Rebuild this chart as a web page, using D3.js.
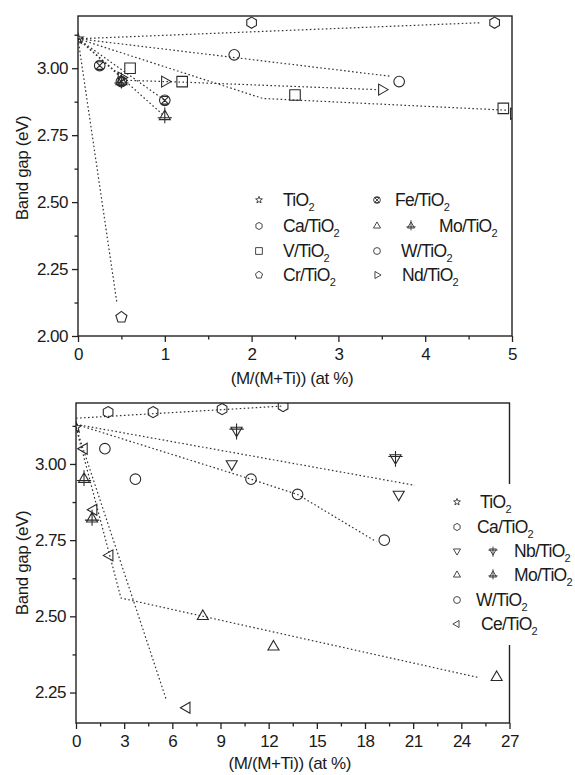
<!DOCTYPE html>
<html>
<head>
<meta charset="utf-8">
<script src="https://cdn.jsdelivr.net/npm/d3@7"></script>
<style>
body { margin: 0; background: #fff; }
svg text { font-family: "Liberation Sans", Arial, sans-serif; fill: #1a1a1a; }
</style>
</head>
<body>
<script>
"use strict";

// ---- top panel data, [at %, band gap eV]
var topTiO2 = [[0, 3.11]];
var topCa = [[2.0, 3.17], [4.8, 3.17]];
var topV = [[0.6, 3.00], [1.2, 2.95], [2.5, 2.90], [4.9, 2.85]];
var topCr = [[0.5, 2.07]];
var topFe = [[0.25, 3.01], [0.5, 2.95], [1.0, 2.88]];
var topMoX = [[0.5, 2.95], [1.0, 2.82]];
var topW = [[1.8, 3.05], [3.7, 2.95]];
var topNd = [[0.5, 2.965], [1.0, 2.95], [3.5, 2.92], [5.02, 2.83]];

// dotted guide lines of the top panel
var topCaFit = [[0, 3.11], [4.65, 3.17]];
var topWFit = [[0, 3.11], [3.6, 2.97]];
var topVFit = [[0, 3.11], [2.13, 2.887], [4.95, 2.843]];
var topNdFit = [[0, 3.11], [0.55, 2.955], [1.2, 2.948], [3.45, 2.92]];
var topFeFit = [[0, 3.11], [1.0, 2.88]];
var topMoFit = [[0, 3.11], [1.0, 2.82]];
var topCrFit = [[0, 3.11], [0.45, 2.12]];

var topXTicks = [0, 1, 2, 3, 4, 5];
var topYTicks = [2.00, 2.25, 2.50, 2.75, 3.00];

// ---- bottom panel data
var botTiO2 = [[0, 3.12]];
var botCa = [[2.0, 3.17], [4.8, 3.17], [9.1, 3.18], [12.9, 3.19]];
var botNb = [[9.7, 3.00], [20.1, 2.90]];
var botNbX = [[10.0, 3.11], [19.9, 3.02]];
var botMo = [[7.9, 2.50], [12.3, 2.40], [26.2, 2.30]];
var botMoX = [[0.5, 2.95], [1.0, 2.82]];
var botW = [[1.8, 3.05], [3.7, 2.95], [10.9, 2.95], [13.8, 2.90], [19.2, 2.75]];
var botCe = [[0.5, 3.05], [1.1, 2.85], [2.1, 2.70], [6.9, 2.20]];

var botCaFit = [[0, 3.15], [12.9, 3.19]];
var botNbFit = [[0, 3.13], [21.1, 2.93]];
var botWFit = [[0, 3.13], [10.9, 2.95], [13.8, 2.90], [18.7, 2.745]];
var botMoFit = [[0, 3.12], [2.8, 2.56], [25.0, 2.30]];
var botCeFit = [[0, 3.12], [5.6, 2.23]];

var botXTicks = [0, 3, 6, 9, 12, 15, 18, 21, 24, 27];
var botYTicks = [2.25, 2.50, 2.75, 3.00];

var ink = "#222";

var svg = d3.select("body").append("svg")
    .attr("width", 575)
    .attr("height", 775);

// marker shapes
function poly(n, r, rot) {
    var pts = d3.range(n).map(function (i) {
        var a = rot + i * 2 * Math.PI / n;
        return [r * Math.cos(a), r * Math.sin(a)];
    });
    return "M" + pts.map(p => p[0].toFixed(2) + "," + p[1].toFixed(2)).join("L") + "Z";
}

function starPath(r) {
    var pts = d3.range(10).map(function (i) {
        var a = -Math.PI / 2 + i * Math.PI / 5;
        var rr = i % 2 ? r * 0.42 : r;
        return [rr * Math.cos(a), rr * Math.sin(a)];
    });
    return "M" + pts.map(p => p[0].toFixed(2) + "," + p[1].toFixed(2)).join("L") + "Z";
}

function circlePath(r) {
    return "M" + r + ",0A" + r + "," + r + " 0 1 1 " + (-r) + ",0A" + r + "," + r + " 0 1 1 " + r + ",0Z";
}

function markerPath(type, r) {
    var t = r * 1.2;
    if (type == "star") return starPath(r * 1.05);
    if (type == "hex") return poly(6, r * 1.05, -Math.PI / 2);
    if (type == "pent") return poly(5, r * 1.1, -Math.PI / 2);
    if (type == "square") return poly(4, r * 1.41, Math.PI / 4);
    if (type == "circle") return circlePath(r);
    if (type == "up") return poly(3, t, -Math.PI / 2);
    if (type == "down") return poly(3, t, Math.PI / 2);
    if (type == "right") return poly(3, t, 0);
    if (type == "left") return poly(3, t, Math.PI);
    if (type == "fe") {
        var a = r * 0.72;
        return circlePath(r) + "M" + (-a) + "," + (-a) + "L" + a + "," + a +
            "M" + (-a) + "," + a + "L" + a + "," + (-a) +
            "M" + (-a) + "," + (-a) + "L" + a + "," + (-a) +
            "M" + (-a) + "," + a + "L" + a + "," + a;
    }
    if (type == "moX") {
        return poly(3, t, -Math.PI / 2) + "M0," + (-r * 1.7) + "V" + (r * 1.3) +
            "M" + (-r * 1.35) + "," + (r * 0.25) + "H" + (r * 1.35);
    }
    if (type == "nbX") {
        return poly(3, t, Math.PI / 2) + "M0," + (-r * 1.3) + "V" + (r * 1.7) +
            "M" + (-r * 1.35) + "," + (-r * 0.25) + "H" + (r * 1.35);
    }
    return circlePath(r);
}

function drawLegendRow(g, row) {
    g.append("path")
        .attr("transform", "translate(" + row.sx + "," + row.y + ")")
        .attr("d", markerPath(row.type, 3.4))
        .attr("fill", "none").attr("stroke", "#333").attr("stroke-width", 0.9);
    if (row.type2) {
        g.append("path")
            .attr("transform", "translate(" + row.sx2 + "," + row.y + ")")
            .attr("d", markerPath(row.type2, 3.4))
            .attr("fill", "none").attr("stroke", "#333").attr("stroke-width", 0.9);
    }
    var t = g.append("text")
        .attr("x", row.tx)
        .attr("y", row.y + 6)
        .style("font-size", "17.5px");
    t.append("tspan").style("letter-spacing", "-0.7px").text(row.label);
    t.append("tspan").attr("dy", 5).style("font-size", "11px").text("2");
}

function drawPanel(cfg) {
    var x = d3.scaleLinear().domain(cfg.xDomain).range([cfg.left, cfg.right]);
    var y = d3.scaleLinear().domain(cfg.yDomain).range([cfg.bottom, cfg.top]);
    var g = svg.append("g");

    g.append("clipPath").attr("id", cfg.id + "clip")
        .append("rect")
        .attr("x", cfg.left).attr("y", cfg.top)
        .attr("width", cfg.right - cfg.left).attr("height", cfg.bottom - cfg.top);

    var plot = g.append("g").attr("clip-path", "url(#" + cfg.id + "clip)");

    var line = d3.line().x(d => x(d[0])).y(d => y(d[1]));
    cfg.fits.forEach(function (f) {
        plot.append("path")
            .attr("d", line(f))
            .attr("fill", "none")
            .attr("stroke", "#333")
            .attr("stroke-width", 1.2)
            .attr("stroke-dasharray", "1.6,2.4");
    });

    cfg.series.forEach(function (s) {
        plot.selectAll(null)
            .data(s.data)
            .enter().append("path")
            .attr("transform", d => "translate(" + x(d[0]) + "," + y(d[1]) + ")")
            .attr("d", markerPath(s.type, 5.3))
            .attr("fill", "none")
            .attr("stroke", "#2a2a2a")
            .attr("stroke-width", 1.1);
    });

    // frame
    g.append("rect")
        .attr("x", cfg.left).attr("y", cfg.top)
        .attr("width", cfg.right - cfg.left).attr("height", cfg.bottom - cfg.top)
        .attr("fill", "none").attr("stroke", ink).attr("stroke-width", 1.4);

    // axes
    var xa = g.append("g").attr("transform", "translate(0," + cfg.bottom + ")")
        .call(d3.axisBottom(x).tickValues(cfg.xTicks).tickSize(6).tickSizeOuter(0)
            .tickPadding(6).tickFormat(d3.format("d")));
    var xm = g.append("g").attr("transform", "translate(0," + cfg.bottom + ")")
        .call(d3.axisBottom(x).tickValues(cfg.xMinor).tickSize(3.5).tickSizeOuter(0).tickFormat(""));
    var ya = g.append("g").attr("transform", "translate(" + cfg.left + ",0)")
        .call(d3.axisLeft(y).tickValues(cfg.yTicks).tickSize(6).tickSizeOuter(0)
            .tickPadding(4).tickFormat(d3.format(".2f")));
    var ym = g.append("g").attr("transform", "translate(" + cfg.left + ",0)")
        .call(d3.axisLeft(y).tickValues(cfg.yMinor).tickSize(3.5).tickSizeOuter(0).tickFormat(""));

    [xa, xm, ya, ym].forEach(function (a) {
        a.select(".domain").remove();
        a.attr("font-family", null).attr("font-size", null);
        a.selectAll("line").attr("stroke", ink).attr("stroke-width", 1.3);
        a.selectAll("text").style("font-size", "17px").style("letter-spacing", "-0.5px").attr("fill", "#1a1a1a");
    });

    g.append("text")
        .attr("x", (cfg.left + cfg.right) / 2 - 3)
        .attr("y", cfg.bottom + cfg.xTitleGap)
        .attr("text-anchor", "middle")
        .style("font-size", "17px")
        .style("letter-spacing", "-0.4px")
        .text("(M/(M+Ti)) (at %)");

    g.append("text")
        .attr("transform", "translate(" + 28 + "," + cfg.yTitleMid + ") rotate(-90)")
        .attr("text-anchor", "middle")
        .style("font-size", "17px")
        .style("letter-spacing", "-0.4px")
        .text("Band gap (eV)");

    if (cfg.legendBox) {
        g.append("rect")
            .attr("x", cfg.legendBox[0]).attr("y", cfg.legendBox[1])
            .attr("width", cfg.legendBox[2]).attr("height", cfg.legendBox[3])
            .attr("fill", "#fff");
    }
    var lg = g.append("g");
    cfg.legend.forEach(r => drawLegendRow(lg, r));
}

function minorTicks(ticks) {
    var out = [];
    for (var i = 0; i < ticks.length - 1; i++) out.push((ticks[i] + ticks[i + 1]) / 2);
    return out;
}

drawPanel({
    id: "top",
    left: 78, right: 512, top: 16, bottom: 336,
    xDomain: [0, 5], yDomain: [2.0, 3.195],
    xTicks: topXTicks, xMinor: minorTicks(topXTicks),
    yTicks: topYTicks, yMinor: minorTicks(topYTicks).concat([3.125]),
    xTitleGap: 48, yTitleMid: 168,
    fits: [topCaFit, topWFit, topVFit, topNdFit, topFeFit, topMoFit, topCrFit],
    series: [
        {type: "star", data: topTiO2},
        {type: "hex", data: topCa},
        {type: "square", data: topV},
        {type: "pent", data: topCr},
        {type: "fe", data: topFe},
        {type: "moX", data: topMoX},
        {type: "circle", data: topW},
        {type: "right", data: topNd}
    ],
    legend: [
        {type: "star", sx: 259, tx: 283, y: 200, label: "TiO"},
        {type: "hex", sx: 259, tx: 283, y: 226, label: "Ca/TiO"},
        {type: "square", sx: 259, tx: 283, y: 251, label: "V/TiO"},
        {type: "pent", sx: 259, tx: 283, y: 275, label: "Cr/TiO"},
        {type: "fe", sx: 377, tx: 395, y: 200, label: "Fe/TiO"},
        {type: "up", sx: 377, type2: "moX", sx2: 411, tx: 439, y: 226, label: "Mo/TiO"},
        {type: "circle", sx: 377, tx: 401, y: 251, label: "W/TiO"},
        {type: "right", sx: 377, tx: 402, y: 275, label: "Nd/TiO"}
    ]
});

drawPanel({
    id: "bot",
    left: 76, right: 509.5, top: 403, bottom: 723,
    xDomain: [0, 27], yDomain: [2.15, 3.2],
    xTicks: botXTicks, xMinor: minorTicks(botXTicks),
    yTicks: botYTicks, yMinor: minorTicks(botYTicks).concat([3.125]),
    xTitleGap: 46, yTitleMid: 563,
    fits: [botCaFit, botNbFit, botWFit, botMoFit, botCeFit],
    series: [
        {type: "star", data: botTiO2},
        {type: "hex", data: botCa},
        {type: "down", data: botNb},
        {type: "nbX", data: botNbX},
        {type: "up", data: botMo},
        {type: "moX", data: botMoX},
        {type: "circle", data: botW},
        {type: "left", data: botCe}
    ],
    legendBox: [445, 484, 130, 161],
    legend: [
        {type: "star", sx: 457, tx: 480, y: 502, label: "TiO"},
        {type: "hex", sx: 457, tx: 477, y: 527, label: "Ca/TiO"},
        {type: "down", sx: 457, type2: "nbX", sx2: 493, tx: 514, y: 551, label: "Nb/TiO"},
        {type: "up", sx: 457, type2: "moX", sx2: 493, tx: 514, y: 575, label: "Mo/TiO"},
        {type: "circle", sx: 457, tx: 476, y: 600, label: "W/TiO"},
        {type: "left", sx: 457, tx: 481, y: 624, label: "Ce/TiO"}
    ]
});
</script>
</body>
</html>
